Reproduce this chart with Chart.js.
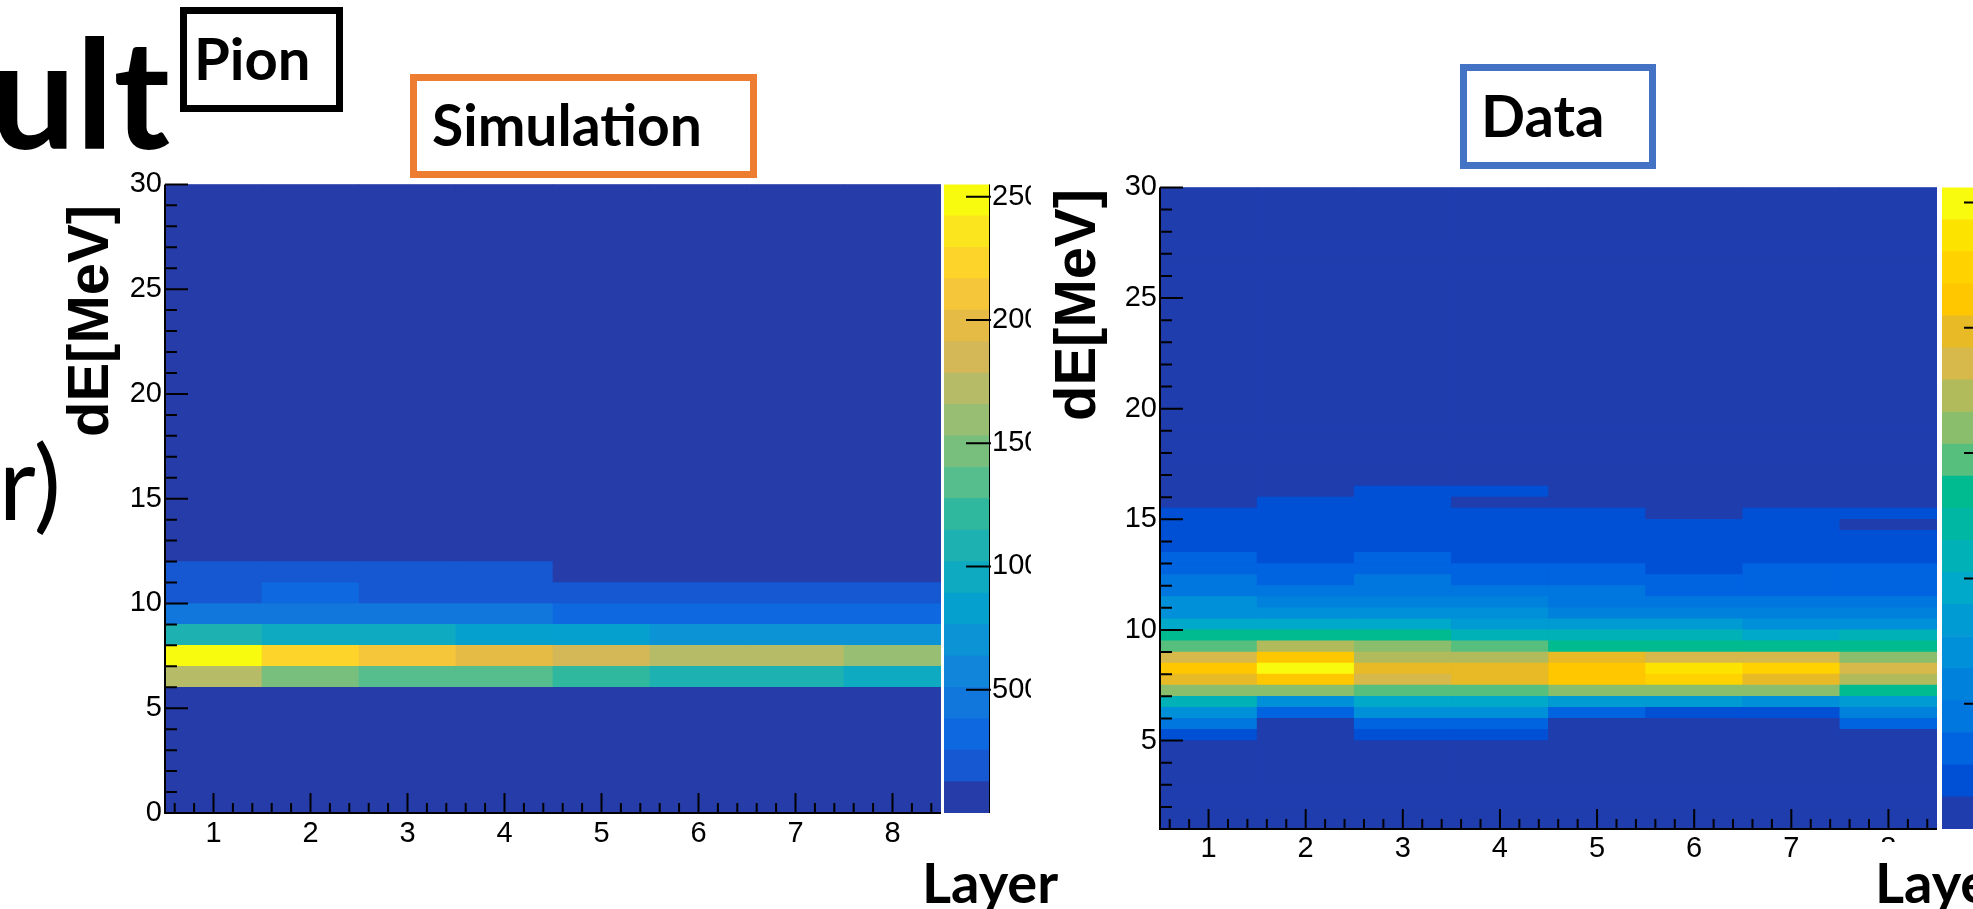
<!DOCTYPE html>
<html>
<head>
<meta charset="utf-8">
<script src="https://cdn.jsdelivr.net/npm/chart.js@4.4.0/dist/chart.umd.min.js"></script>
<style>
  html, body { margin: 0; padding: 0; background: #fff; }
  body { width: 1973px; height: 909px; position: relative; overflow: hidden; }
  canvas { position: absolute; }
  .t { position: absolute; white-space: nowrap; color: #000; font-family: Lato, 'Open Sans', sans-serif; }
  .box { position: absolute; box-sizing: border-box; }
  .axt { position: absolute; white-space: nowrap; font-family: 'Liberation Sans', Arial, sans-serif;
         font-weight: bold; font-size: 58px; line-height: 58px; transform: translate(-50%, -50%) rotate(-90deg); }
</style>
</head>
<body>

<div class="t" style="right:1803px; top:14px; font-size:152px; line-height:152px; font-weight:700;">Result</div>
<div class="t" style="right:1912px; top:430px; font-size:102px; line-height:102px; font-weight:400;">er)</div>

<div class="box" style="left:180px; top:7px; width:163px; height:105px; border:7px solid #000;"></div>
<div class="t" style="left:194px; top:29px; font-size:58px; line-height:58px; font-weight:700;">Pion</div>

<div class="box" style="left:410px; top:74px; width:347px; height:104px; border:7px solid #ed7d31;"></div>
<div class="t" style="left:432px; top:96px; font-size:57px; line-height:57px; font-weight:700;">Simulation</div>

<div class="box" style="left:1460px; top:64px; width:196px; height:105px; border:7px solid #4472c4;"></div>
<div class="t" style="left:1481px; top:86px; font-size:58px; line-height:58px; font-weight:700;">Data</div>

<canvas id="simChart" width="841" height="700" style="left:100px; top:164px;"></canvas>
<canvas id="simBar" width="131" height="700" style="left:900px; top:164px;"></canvas>
<canvas id="dataChart" width="842" height="710" style="left:1095px; top:167px;"></canvas>
<canvas id="dataBar" width="140" height="710" style="left:1900px; top:167px;"></canvas>

<div class="axt" style="left:88px; top:321px;">dE[MeV]</div>
<div class="axt" style="left:1075px; top:305px;">dE[MeV]</div>

<div class="t" style="left:922px; top:854px; font-size:56px; line-height:56px; font-weight:700;">Layer</div>
<div class="t" style="left:1872px; top:842px; padding-top:12px; padding-left:3px; padding-right:40px; background:#fff; font-size:56px; line-height:56px; font-weight:700;">Layer</div>

<script>
// ---- data ----
const layerLabels = ['1', '2', '3', '4', '5', '6', '7', '8'];

// Simulation: 1 MeV bins, counts per layer (bins not listed are empty)
const sim6  = [17420, 14620, 13530, 13310, 12120, 10900, 10760, 9610];
const sim7  = [25100, 22660, 21240, 19830, 18610, 17300, 17080, 16040];
const sim8  = [10850, 9760, 9580, 8430, 8190, 7180, 7050, 6920];
const sim9  = [4720, 4610, 4540, 4480, 3420, 3350, 3290, 3210];
const sim10 = [1900, 2790, 2150, 2080, 1960, 1870, 1810, 1760];
const sim11 = [1650, 1720, 1580, 1530, 420, 380, 350, 330];
const simRowLows = [6, 7, 8, 9, 10, 11];
const simRows = [sim6, sim7, sim8, sim9, sim10, sim11];

// Data: 0.5 MeV bins, counts per layer
const data5_0  = [200, 40, 170, 160, 30, 30, 25, 60];
const data5_5  = [430, 100, 320, 300, 90, 80, 70, 290];
const data6_0  = [680, 300, 660, 650, 310, 200, 210, 560];
const data6_5  = [1060, 700, 950, 930, 820, 800, 700, 830];
const data7_0  = [1590, 1610, 1460, 1490, 1580, 1560, 1550, 1340];
const data7_5  = [1970, 2140, 1870, 1950, 2110, 2220, 1960, 1740];
const data8_0  = [2120, 2530, 1990, 1980, 2150, 2350, 2230, 1880];
const data8_5  = [1860, 2100, 1750, 1720, 1960, 1850, 1830, 1600];
const data9_0  = [1480, 1720, 1580, 1450, 1340, 1360, 1320, 1300];
const data9_5  = [1330, 1300, 1320, 1090, 1100, 1080, 975, 1050];
const data10_0 = [960, 920, 945, 850, 820, 800, 720, 730];
const data10_5 = [740, 680, 710, 665, 600, 560, 570, 545];
const data11_0 = [650, 560, 590, 550, 490, 450, 460, 445];
const data11_5 = [470, 445, 480, 440, 420, 375, 380, 370];
const data12_0 = [400, 370, 395, 365, 350, 320, 340, 335];
const data12_5 = [320, 300, 330, 305, 290, 250, 285, 280];
const data13_0 = [270, 250, 275, 252, 248, 240, 250, 245];
const data13_5 = [240, 250, 250, 240, 235, 220, 230, 215];
const data14_0 = [205, 230, 245, 225, 210, 190, 200, 185];
const data14_5 = [175, 215, 230, 195, 185, 150, 160, 120];
const data15_0 = [150, 190, 205, 180, 160, 115, 140, 145];
const data15_5 = [90, 165, 185, 110, 80, 60, 75, 70];
const data16_0 = [40, 60, 170, 150, 55, 35, 45, 50];
const dataRowLows = [5.0, 5.5, 6.0, 6.5, 7.0, 7.5, 8.0, 8.5, 9.0, 9.5, 10.0, 10.5,
                     11.0, 11.5, 12.0, 12.5, 13.0, 13.5, 14.0, 14.5, 15.0, 15.5, 16.0];
const dataRows = [data5_0, data5_5, data6_0, data6_5, data7_0, data7_5, data8_0, data8_5,
                  data9_0, data9_5, data10_0, data10_5, data11_0, data11_5, data12_0, data12_5,
                  data13_0, data13_5, data14_0, data14_5, data15_0, data15_5, data16_0];

// axis ticks / colour scale ranges
const simYTicks = [0, 5, 10, 15, 20, 25, 30];
const dataYTicks = [5, 10, 15, 20, 25, 30];
const simZMax = 25500;
const dataZMax = 2560;
const simZTicks = [5000, 10000, 15000, 20000, 25000];
const dataZTicks = [500, 1000, 1500, 2000, 2500];

// 20-level palettes (bottom -> top)
const simPalette = ['#263da9', '#1558d2', '#0e69e0', '#1277dd', '#1185da', '#0b93d6', '#06a0cf',
  '#0eaac2', '#1eb1b1', '#30b89f', '#56bd8c', '#78bf7e', '#97be72', '#b5bb67', '#d4b757',
  '#e6bb45', '#f5c53a', '#fdd52a', '#fae51f', '#f9fb0e'];
const dataPalette = ['#1f3dad', '#0050d6', '#0063e0', '#0076df', '#0082dc', '#0090d9', '#009bd2',
  '#00a8c9', '#00b2b8', '#00b7a3', '#00bb8f', '#57bf7e', '#8abe6c', '#b2bb5c', '#d6b94a',
  '#e8ba26', '#ffc700', '#ffd200', '#fde400', '#f9fb0e'];

const tickFont = { family: "'Liberation Sans Narrow', 'Liberation Sans', Arial, sans-serif", size: 29 };

function colourOf(v, zMax, palette) {
    const n = palette.length;
    return palette[Math.max(0, Math.min(n - 1, Math.floor(v / zMax * n)))];
}

function heatDatasets(rowLows, rows, yMin, yMax, binW, zMax, palette) {
    const sets = [];
    const nBins = Math.round((yMax - yMin) / binW);
    for (let i = 0; i < nBins; i++) {
        const lo = yMin + i * binW;
        const k = rowLows.findIndex(r => Math.abs(r - lo) < 1e-6);
        const counts = k >= 0 ? rows[k] : layerLabels.map(() => 0);
        sets.push({
            data: counts.map(() => [lo, lo + binW]),
            backgroundColor: counts.map(c => colourOf(c, zMax, palette)),
            borderWidth: 0,
            grouped: false,
            categoryPercentage: 1,
            barPercentage: 1
        });
    }
    return sets;
}

// fill the plot frame with the lowest palette colour (hides seams between cells)
const frameFill = {
    id: 'frameFill',
    beforeDatasetsDraw(chart, args, o) {
        if (!o || !o.color) return;
        const { ctx, chartArea: a } = chart;
        ctx.save();
        ctx.fillStyle = o.color;
        ctx.fillRect(a.left, a.top, a.right - a.left, a.bottom - a.top);
        ctx.restore();
    }
};

// ROOT-like frame: axis lines and ticks pointing into the plot
const rootFrame = {
    id: 'rootFrame',
    afterDraw(chart, args, o) {
        if (!o || !o.yMajor) return;
        const { ctx, chartArea: a, scales: { x, y } } = chart;
        ctx.save();
        ctx.strokeStyle = '#000';
        ctx.lineWidth = 2;
        ctx.beginPath();
        ctx.moveTo(a.left, a.top);
        ctx.lineTo(a.left, a.bottom);
        ctx.lineTo(a.right, a.bottom);
        o.yMajor.forEach(v => {
            const p = y.getPixelForValue(v);
            ctx.moveTo(a.left, p); ctx.lineTo(a.left + 23, p);
        });
        for (let v = Math.ceil(y.min); v <= y.max; v++) {
            if (o.yMajor.includes(v) || v === y.min) continue;
            const p = y.getPixelForValue(v);
            ctx.moveTo(a.left, p); ctx.lineTo(a.left + 12, p);
        }
        for (let k = 0; k < layerLabels.length; k++) {
            const p = x.getPixelForValue(k);
            ctx.moveTo(p, a.bottom); ctx.lineTo(p, a.bottom - 20);
            [-0.4, -0.2, 0.2, 0.4].forEach(f => {
                const q = x.getPixelForValue(k + f);
                ctx.moveTo(q, a.bottom); ctx.lineTo(q, a.bottom - 10);
            });
        }
        ctx.stroke();
        ctx.restore();
    }
};

// palette axis ticks on the colour bar
const paletteFrame = {
    id: 'paletteFrame',
    afterDraw(chart, args, o) {
        if (!o || !o.zTicks) return;
        const { ctx, chartArea: a, scales: { y } } = chart;
        ctx.save();
        ctx.strokeStyle = '#000';
        ctx.lineWidth = 2;
        ctx.beginPath();
        o.zTicks.forEach(v => {
            const p = y.getPixelForValue(v);
            ctx.moveTo(a.right - 23, p); ctx.lineTo(a.right + 2, p);
        });
        ctx.stroke();
        ctx.lineWidth = 1;
        ctx.beginPath();
        ctx.moveTo(a.right + 0.5, a.top); ctx.lineTo(a.right + 0.5, a.bottom);
        ctx.stroke();
        ctx.restore();
    }
};

function heatChart(id, datasets, yMin, yMax, yTicks, bg, xPad, yAxisW, xAxisH) {
    return new Chart(document.getElementById(id), {
        type: 'bar',
        data: { labels: layerLabels, datasets },
        options: {
            responsive: false,
            animation: false,
            events: [],
            layout: { autoPadding: false, padding: { top: 20, right: 0, bottom: 0, left: 0 } },
            plugins: {
                legend: { display: false },
                tooltip: { enabled: false },
                frameFill: { color: bg },
                rootFrame: { yMajor: yTicks }
            },
            scales: {
                x: {
                    offset: true,
                    grid: { display: false, drawTicks: false },
                    border: { display: false },
                    ticks: { font: tickFont, color: '#000', padding: xPad, autoSkip: false, maxRotation: 0 },
                    afterFit: s => { s.height = xAxisH; }
                },
                y: {
                    min: yMin, max: yMax,
                    grid: { display: false, drawTicks: false },
                    border: { display: false },
                    ticks: { font: tickFont, color: '#000', padding: 3 },
                    afterBuildTicks: s => { s.ticks = yTicks.map(v => ({ value: v })); },
                    afterFit: s => { s.width = yAxisW; }
                }
            }
        },
        plugins: [frameFill, rootFrame]
    });
}

function paletteChart(id, zMax, zTicks, palette, pad, axisW) {
    const n = palette.length;
    const bands = palette.map((c, i) => ({
        data: [[i * zMax / n, (i + 1) * zMax / n]],
        backgroundColor: c,
        borderWidth: 0,
        grouped: false,
        categoryPercentage: 1,
        barPercentage: 1
    }));
    return new Chart(document.getElementById(id), {
        type: 'bar',
        data: { labels: [''], datasets: bands },
        options: {
            responsive: false,
            animation: false,
            events: [],
            layout: { autoPadding: false, padding: pad },
            plugins: {
                legend: { display: false },
                tooltip: { enabled: false },
                paletteFrame: { zTicks }
            },
            scales: {
                x: { display: false },
                y: {
                    position: 'right',
                    min: 0, max: zMax,
                    grid: { display: false, drawTicks: false },
                    border: { display: false },
                    ticks: { font: tickFont, color: '#000', padding: 3, callback: v => String(v) },
                    afterBuildTicks: s => { s.ticks = zTicks.map(v => ({ value: v })); },
                    afterFit: s => { s.width = axisW; }
                }
            }
        },
        plugins: [paletteFrame]
    });
}

heatChart('simChart', heatDatasets(simRowLows, simRows, 0, 30, 1, simZMax, simPalette),
    0, 30, simYTicks, simPalette[0], 4, 65, 51);
paletteChart('simBar', simZMax, simZTicks, simPalette, { left: 44, top: 20, bottom: 51, right: 0 }, 42);

heatChart('dataChart', heatDatasets(dataRowLows, dataRows, 1, 30, 0.5, dataZMax, dataPalette),
    1, 30, dataYTicks, dataPalette[0], 3, 65, 48);
paletteChart('dataBar', dataZMax, dataZTicks, dataPalette, { left: 42, top: 20, bottom: 48, right: 0 }, 53);
</script>
</body>
</html>
